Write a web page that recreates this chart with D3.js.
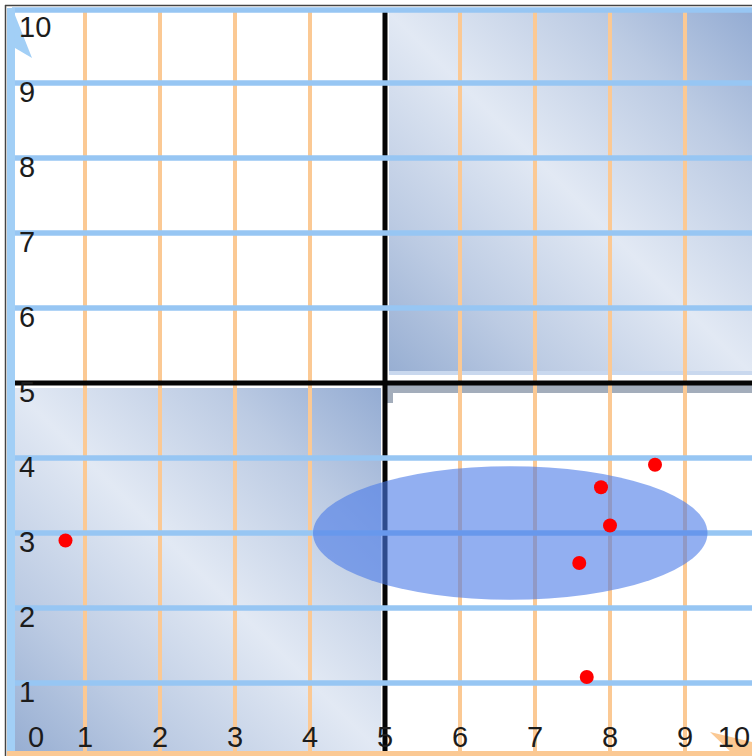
<!DOCTYPE html>
<html><head><meta charset="utf-8">
<script src="https://cdn.jsdelivr.net/npm/d3@7"></script>
<style>html,body{margin:0;padding:0;background:#fff;}svg{display:block;}</style>
</head><body>
<script>
// ---- data ----
const xTicks = [0,1,2,3,4,5,6,7,8,9,10];
const yTicks = [1,2,3,4,5,6,7,8,9,10];
const gridX = [1,2,3,4,6,7,8,9];
const gridY = [1,2,3,4,6,7,8,9,10];
const pointX = [0.74, 8.6, 7.88, 8.0, 7.59, 7.69];
const pointY = [2.9, 3.91, 3.61, 3.1, 2.6, 1.08];
const ellipseCenter = [6.67, 3.0];
const ellipseRadii = [2.63, 0.89];
const quadrantSplit = 5;

const W = 752, H = 756;
const x = d3.scaleLinear().domain([0,10]).range([10,760]);
const y = d3.scaleLinear().domain([0,10]).range([758,8]);

const svg = d3.select("body").append("svg").attr("width",W).attr("height",H);
const defs = svg.append("defs");
const g = defs.append("linearGradient").attr("id","pan").attr("x1","0").attr("y1","1").attr("x2","1").attr("y2","0");
g.append("stop").attr("offset","0").attr("stop-color","#97aed2");
g.append("stop").attr("offset","0.22").attr("stop-color","#bccbe3");
g.append("stop").attr("offset","0.5").attr("stop-color","#e2e9f4");
g.append("stop").attr("offset","0.78").attr("stop-color","#bccbe3");
g.append("stop").attr("offset","1").attr("stop-color","#94acd3");

svg.append("rect").attr("width",W).attr("height",H).attr("fill","#fff");

// quadrant panels
svg.append("rect").attr("x",x(quadrantSplit)+4).attr("y",12)
  .attr("width",W-(x(quadrantSplit)+4)).attr("height",y(quadrantSplit)-9-12).attr("fill","url(#pan)");
svg.append("rect").attr("x",14).attr("y",y(quadrantSplit)+5)
  .attr("width",x(quadrantSplit)-4-14).attr("height",H-4-(y(quadrantSplit)+5)).attr("fill","url(#pan)");
// light strip at bottom of top-right panel
svg.append("rect").attr("x",x(quadrantSplit)+4).attr("y",y(quadrantSplit)-12)
  .attr("width",W).attr("height",4).attr("fill","#c9d8ee");
// shadow of bottom-right panel
svg.append("rect").attr("x",x(quadrantSplit)+8).attr("y",y(quadrantSplit)+2)
  .attr("width",W).attr("height",8).attr("fill","#a3adbb");
svg.append("rect").attr("x",x(quadrantSplit)+2).attr("y",y(quadrantSplit)+2)
  .attr("width",6).attr("height",18).attr("fill","#a3adbb");

// orange vertical grid
svg.selectAll(".gx").data(gridX).enter().append("line")
  .attr("x1",d=>x(d)).attr("x2",d=>x(d)).attr("y1",12).attr("y2",752)
  .attr("stroke","#fbc994").attr("stroke-width",4);

// black quadrant lines
svg.append("line").attr("x1",14).attr("x2",W).attr("y1",y(quadrantSplit)).attr("y2",y(quadrantSplit))
  .attr("stroke","#050505").attr("stroke-width",5);
svg.append("line").attr("x1",x(quadrantSplit)).attr("x2",x(quadrantSplit)).attr("y1",12).attr("y2",H)
  .attr("stroke","#050505").attr("stroke-width",5);

// blue horizontal grid
svg.selectAll(".gy").data(gridY).enter().append("line")
  .attr("x1",12).attr("x2",W).attr("y1",d=>Math.max(y(d),10)).attr("y2",d=>Math.max(y(d),10))
  .attr("stroke","#97c6f3").attr("stroke-width",5.5);

// left axis bar with arrow
svg.append("rect").attr("x",7).attr("y",8).attr("width",8).attr("height",H).attr("fill","#a2cff6");
svg.append("path").attr("d","M13,10 L32,58 L15,48 Z").attr("fill","#a2cff6");
// bottom axis bar with arrow
svg.append("rect").attr("x",7).attr("y",751).attr("width",W).attr("height",5).attr("fill","#fbc994");
svg.append("path").attr("d","M710,732 L752,742 L752,756 L735,756 Z").attr("fill","#fbc994");

// frame
svg.append("line").attr("x1",5.5).attr("x2",5.5).attr("y1",5).attr("y2",H).attr("stroke","#444").attr("stroke-width",1.5);
svg.append("line").attr("x1",5).attr("x2",W).attr("y1",5.5).attr("y2",5.5).attr("stroke","#444").attr("stroke-width",1.5);

// tick labels
const font = "'Liberation Sans', Arial, sans-serif";
svg.selectAll(".yl").data(yTicks).enter().append("text")
  .attr("x",19).attr("y",d=>Math.max(y(d)+19,37))
  .attr("font-family",font).attr("font-size",29).attr("fill","#1c1c1c")
  .text(d=>d);
svg.selectAll(".xl").data(xTicks).enter().append("text")
  .attr("x",d=>Math.min(Math.max(x(d),36),734)).attr("y",747)
  .attr("text-anchor","middle")
  .attr("font-family",font).attr("font-size",29).attr("fill","#1c1c1c")
  .text(d=>d);

// ellipse
svg.append("ellipse")
  .attr("cx",x(ellipseCenter[0])).attr("cy",y(ellipseCenter[1]))
  .attr("rx",x(ellipseRadii[0])-x(0)).attr("ry",y(0)-y(ellipseRadii[1]))
  .attr("fill","#4a7ae8").attr("fill-opacity",0.6);

// points
svg.selectAll(".pt").data(pointX.map((v,i)=>[v,pointY[i]])).enter().append("circle")
  .attr("cx",d=>x(d[0])).attr("cy",d=>y(d[1])).attr("r",7)
  .attr("fill","#ff0000");
</script>
</body></html>
